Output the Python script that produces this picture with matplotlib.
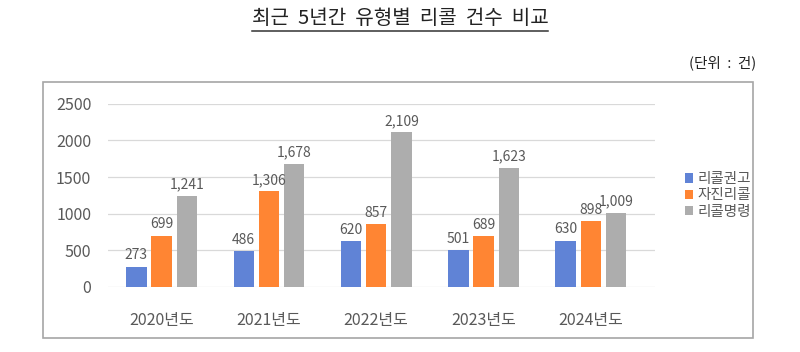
import numpy as np
import matplotlib.pyplot as plt
from matplotlib.patches import Rectangle

plt.rcParams['font.family'] = ['Noto Sans CJK KR', 'DejaVu Sans']

years = ['2020년도', '2021년도', '2022년도', '2023년도', '2024년도']
series_names = ['리콜권고', '자진리콜', '리콜명령']
recommend = [273, 486, 620, 501, 630]
voluntary = [699, 1306, 857, 689, 898]
ordered = [1241, 1678, 2109, 1623, 1009]
colors = ['#6083d6', '#ff8533', '#adadad']

fig = plt.figure(figsize=(8, 3.52), dpi=100)

# outer chart frame
fig.patches.append(Rectangle((0.054, 0.04), 0.887, 0.727, transform=fig.transFigure,
                             fill=False, edgecolor='#a6a6a6', linewidth=1.2))

title = fig.text(0.5, 0.948, '최근  5년간  유형별  리콜  건수  비교', ha='center', va='center',
                 fontsize=14.5, color='#222222')
fig.canvas.draw()
bb = title.get_window_extent().transformed(fig.transFigure.inverted())
fig.add_artist(plt.Line2D([bb.x0, bb.x1], [0.912, 0.912], color='#333333', lw=1.1))
fig.text(0.945, 0.822, '(단위  :  건)', ha='right', va='center', fontsize=10.5, color='#222222')

ax = fig.add_axes([0.135, 0.185, 0.684, 0.52])
x = np.arange(len(years))
w = 0.19
offsets = [-0.235, 0, 0.235]
for vals, name, c, off in zip([recommend, voluntary, ordered], series_names, colors, offsets):
    bars = ax.bar(x + off, vals, w, color=c, label=name, zorder=3)
    for b, v in zip(bars, vals):
        ax.text(b.get_x() + b.get_width() / 2, v + 60, f'{v:,}', ha='center', va='bottom',
                fontsize=10, color='#595959', zorder=4)

ax.set_ylim(0, 2500)
ax.set_yticks(range(0, 2501, 500))
ax.set_xlim(-0.5, 4.6)
ax.set_xticks(x)
ax.set_xticklabels(years)
ax.tick_params(axis='both', length=0, labelsize=11.5, colors='#595959')
ax.tick_params(axis='x', pad=18)
ax.tick_params(axis='y', pad=12)
ax.grid(axis='y', color='#d9d9d9', linewidth=0.9, zorder=0)
for s in ax.spines.values():
    s.set_visible(False)

ax.legend(loc='center left', bbox_to_anchor=(1.03, 0.5), frameon=False, fontsize=10.5,
          handlelength=0.6, handleheight=0.6, handletextpad=0.3, labelspacing=0.15,
          labelcolor='#595959')

fig.savefig('out.png', dpi=100)
